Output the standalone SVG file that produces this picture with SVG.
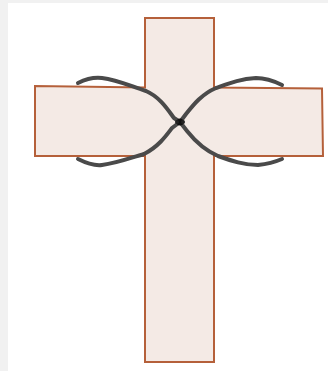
<svg xmlns="http://www.w3.org/2000/svg" width="328" height="371" viewBox="0 0 328 371">
<style>
.cross{fill:#f4eae5;stroke:#b5603a;stroke-width:2;stroke-linejoin:miter}
.rope{fill:none;stroke:#4a4a4a;stroke-width:4;stroke-linecap:round;stroke-linejoin:round}
</style>
<rect x="0" y="0" width="328" height="371" fill="#f1f1f1"/>
<rect x="8" y="3" width="320" height="368" fill="#ffffff"/>
<g id="cross">
<polygon class="cross" points="145,18 214,18 214,87.5 322,88.5 323,156 214,156 214,362 145,362 145,156 35,156 35,86 145,87.5"/>
</g>
<g id="ropes">
<path class="rope" d="M78,83 C86,79 94,77 102,78 C118,80 130,86 146,91 C160,97 168,110 174,118 L180,122"/>
<path class="rope" d="M78,159 C86,163 94,166 102,165 C118,163 130,158 144,154 C158,147 166,136 172,128 L180,122"/>
<path class="rope" d="M180,122 L186,114 C194,104 202,94 216,88 C230,83 240,79 256,78 C266,78 274,81 282,85"/>
<path class="rope" d="M180,122 L187,131 C195,141 204,150 218,156 C232,161 244,165 258,165 C268,164 275,162 282,159"/>
<circle cx="180" cy="122" r="3.5" fill="#111"/>
<circle cx="177" cy="122" r="2" fill="#222"/>
<circle cx="183" cy="122" r="2" fill="#222"/>
</g>
</svg>
